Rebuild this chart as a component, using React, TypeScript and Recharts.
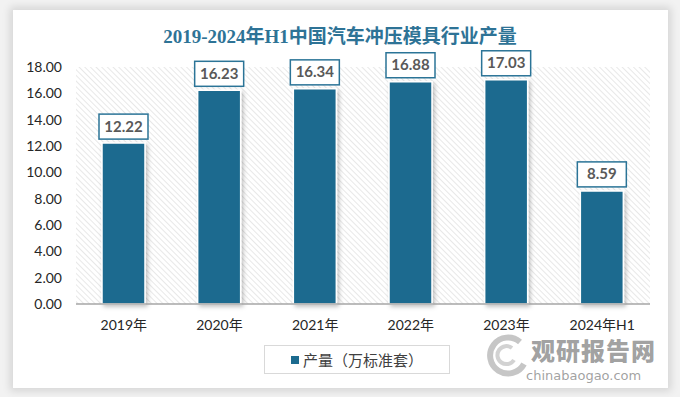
import React from 'react';
import { BarChart, Bar, XAxis, YAxis, CartesianGrid, LabelList } from 'recharts';

const years = ['2019年', '2020年', '2021年', '2022年', '2023年', '2024年H1'];
const output = [12.22, 16.23, 16.34, 16.88, 17.03, 8.59];
const yTicks = [0, 2, 4, 6, 8, 10, 12, 14, 16, 18];

const data = years.map((year, i) => ({ year, value: output[i] }));

const BAR_COLOR = '#1c6b8f';
const SANS = "Lato, 'Noto Sans CJK SC', sans-serif";

const ValueLabel = (props: any) => {
  const { x, y, width, value } = props;
  const cx = x + width / 2;
  const boxW = 49;
  const boxH = 25;
  const top = y - 4 - boxH;
  return (
    <g>
      <rect x={cx - boxW / 2} y={top} width={boxW} height={boxH} fill="#ffffff" stroke="#2b7497" strokeWidth={1.5} />
      <text x={cx} y={top + boxH / 2 + 5} textAnchor="middle" fontSize={15} fontWeight="bold" fill="#595959" fontFamily={SANS}>
        {value.toFixed(2)}
      </text>
    </g>
  );
};

export default function App() {
  return (
    <div style={{ position: 'absolute', left: 0, top: 0, width: 680, height: 397, background: '#f2f2f2', overflow: 'hidden' }}>
      <div
        style={{
          position: 'absolute',
          left: 13,
          top: 10,
          width: 655,
          height: 378,
          background: '#ffffff',
          boxShadow: '0 0 8px 3px rgba(0,0,0,0.12)',
        }}
      />
      <div
        style={{
          position: 'absolute',
          left: 0,
          top: 21,
          width: 680,
          textAlign: 'center',
          fontFamily: "'Liberation Serif', 'Noto Sans CJK SC', serif",
          fontWeight: 'bold',
          fontSize: 19,
          color: '#2e7396',
        }}
      >
        2019-2024年H1中国汽车冲压模具行业产量
      </div>
      <div style={{ position: 'absolute', left: 0, top: 0 }}>
        <BarChart width={680} height={397} data={data} margin={{ top: 67, right: 30, bottom: 63, left: 16 }}>
          <defs>
            <pattern id="hatch" width="4" height="4" patternUnits="userSpaceOnUse" patternTransform="rotate(-45)">
              <rect width="4" height="4" fill="#ffffff" />
              <line x1="0" y1="0" x2="0" y2="4" stroke="#e3e3e3" strokeWidth="1.6" />
            </pattern>
            <filter id="barShadow" x="-20%" y="-10%" width="150%" height="130%">
              <feDropShadow dx="2" dy="2" stdDeviation="2" floodColor="#000" floodOpacity="0.25" />
            </filter>
          </defs>
          <CartesianGrid horizontal={false} vertical={false} fill="url(#hatch)" />
          <XAxis
            dataKey="year"
            axisLine={{ stroke: '#a6a6a6', strokeWidth: 1.5 }}
            tickLine={false}
            tickMargin={10}
            tick={{ fontSize: 14, fill: '#262626', fontFamily: SANS }}
            interval={0}
          />
          <YAxis
            width={60}
            domain={[0, 18]}
            ticks={yTicks}
            interval={0}
            axisLine={false}
            tickLine={false}
            tickMargin={8}
            tickFormatter={(v: number) => v.toFixed(2)}
            tick={{ fontSize: 14, fill: '#262626', fontFamily: SANS }}
          />
          <Bar
            dataKey="value"
            name="产量（万标准套）"
            fill={BAR_COLOR}
            stroke="#ffffff"
            strokeWidth={1.5}
            barSize={43}
            filter="url(#barShadow)"
            isAnimationActive={false}
          >
            <LabelList dataKey="value" content={<ValueLabel />} />
          </Bar>
        </BarChart>
      </div>
      <div
        style={{
          position: 'absolute',
          left: 264,
          top: 345,
          width: 184,
          height: 27,
          border: '1px solid #d9d9d9',
          display: 'flex',
          alignItems: 'center',
          justifyContent: 'center',
          fontFamily: SANS,
          fontSize: 15,
          color: '#404040',
          background: '#fff',
        }}
      >
        <span style={{ width: 8, height: 8, background: BAR_COLOR, marginRight: 4, display: 'inline-block' }} />
        产量（万标准套）
      </div>
      <div
        style={{
          position: 'absolute',
          left: 531,
          top: 338,
          fontFamily: "'Noto Sans CJK SC', sans-serif",
          fontWeight: 900,
          fontSize: 24,
          lineHeight: '24px',
          color: 'rgba(120,120,120,0.7)',
          letterSpacing: 1,
        }}
      >
        观研报告网
      </div>
      <div
        style={{
          position: 'absolute',
          left: 526,
          top: 369,
          fontFamily: "'DejaVu Sans', sans-serif",
          fontSize: 13,
          lineHeight: '14px',
          color: 'rgba(120,120,120,0.7)',
        }}
      >
        chinabaogao.com
      </div>
      <svg style={{ position: 'absolute', left: 480, top: 330 }} width={50} height={50}>
        <path d="M40 12 A18 18 0 1 0 44 34" fill="none" stroke="rgba(160,160,160,0.6)" strokeWidth={6} />
        <path d="M32 18 A9 9 0 1 0 34 30" fill="none" stroke="rgba(180,180,180,0.6)" strokeWidth={4} />
      </svg>
    </div>
  );
}
